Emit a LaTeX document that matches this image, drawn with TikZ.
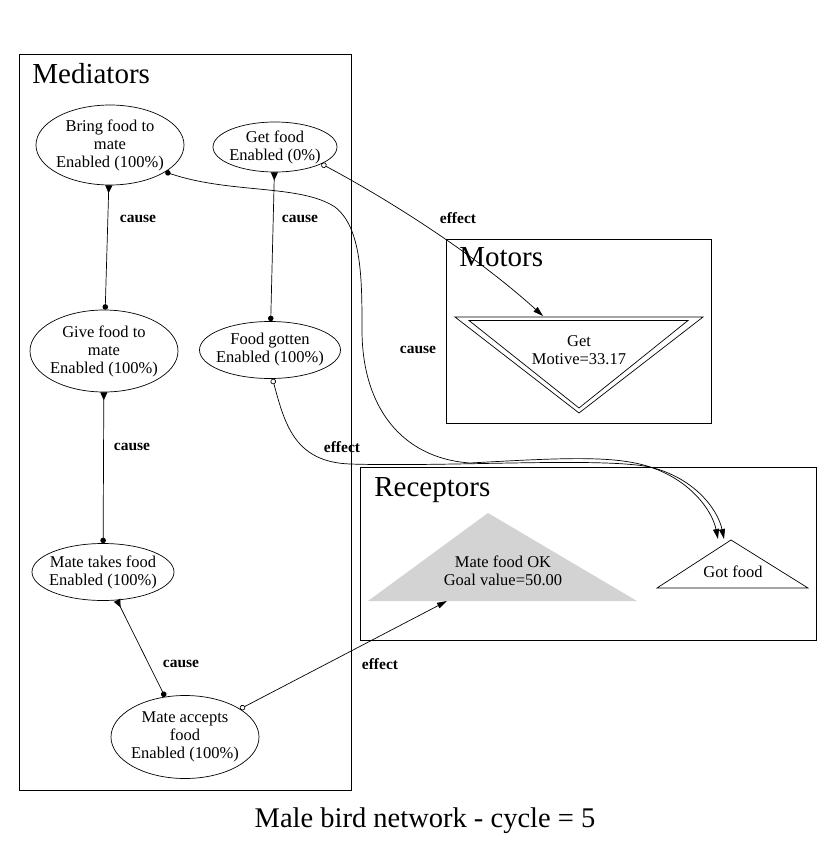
\documentclass[tikz,border=0pt]{standalone}
\usepackage{fontspec}
\setmainfont{Liberation Serif}
\usetikzlibrary{positioning, arrows.meta, shapes.geometric}
\definecolor{goalgray}{RGB}{211,211,211}

\begin{document}
\begin{tikzpicture}[
      x=1pt, y=-1pt, line width=0.7pt,
      mediator/.style={ellipse, draw, inner sep=-4pt, align=center, font=\fontsize{16.5}{18}\selectfont},
      sense/.style={align=center, inner sep=0pt, font=\fontsize{16.5}{18}\selectfont},
      group/.style={draw},
      title/.style={anchor=base west, inner sep=0pt, font=\fontsize{29}{32}\selectfont},
      lbl/.style={inner sep=0pt, font=\bfseries\fontsize{15.5}{17}\selectfont},
      cause/.style={arrows={Triangle[reversed,length=8pt,width=7pt]-Circle[length=5.5pt]}},
      causeback/.style={arrows={Circle[length=5.5pt]-Triangle[length=10pt,width=6pt]}},
      effect/.style={arrows={Circle[open,length=5.5pt]-Triangle[length=10pt,width=6pt]}}
    ]
      \useasboundingbox (0,0) rectangle (833,846);

      % Groups
      \draw[group] (19,54) rectangle (351,790);
      \draw[group] (446,239) rectangle (711,423);
      \draw[group] (360,467) rectangle (816,640);
      \node[title] (medtitle) at (32,83) {Mediators};
      \node[title] (mottitle) at (459,266) {Motors};
      \node[title] (rectitle) at (374,496) {Receptors};

      % Mediators
      \node[mediator, minimum width=148pt, minimum height=80pt] (bring) at (110,145) {Bring food to\\mate\\Enabled (100\%)};
      \node[mediator, minimum width=124pt, minimum height=50pt] (getfood) at (275,147) {Get food\\Enabled (0\%)};
      \node[mediator, minimum width=148pt, minimum height=82pt] (give) at (104,351) {Give food to\\mate\\Enabled (100\%)};
      \node[mediator, minimum width=141pt, minimum height=57pt] (gotten) at (270,350) {Food gotten\\Enabled (100\%)};
      \node[mediator, minimum width=142pt, minimum height=57pt] (takes) at (103,572) {Mate takes food\\Enabled (100\%)};
      \node[mediator, minimum width=148pt, minimum height=83pt] (accepts) at (185,737) {Mate accepts\\food\\Enabled (100\%)};

      % Motors
      \draw (455,317) -- (703,317) -- (579,413) -- cycle;
      \draw (469,320.5) -- (688,320.5) -- (579,408) -- cycle;
      \node[sense] (get) at (579,350) {Get\\Motive=33.17};
      \coordinate (getin) at (543,316);

      % Receptors
      \fill[goalgray] (368,601) -- (488,513) -- (637,601) -- cycle;
      \node[sense] (mateok) at (503,571) {Mate food OK\\Goal value=50.00};
      \coordinate (okin) at (447,601);
      \draw (657,588) -- (731,540) -- (808,588) -- cycle;
      \node[sense] (gotfood) at (733,572) {Got food};
      \coordinate (gotin1) at (718,539);
      \coordinate (gotin2) at (724,539);

      % Arrows
      \draw[cause] (bring) -- (give);
      \draw[cause] (getfood) -- (gotten);
      \draw[cause] (give) -- (takes);
      \draw[cause] (takes) -- (accepts);
      \draw[causeback] (bring.-26) .. controls (230,194) and (300,184) .. (335,207)
        .. controls (362,228) and (362,280) .. (362,330)
        .. controls (362,405) and (400,458) .. (470,463)
        .. controls (560,458) and (615,455) .. (650,467)
        .. controls (690,480) and (712,510) .. (gotin1);
      \draw[effect] (getfood.-20) .. controls (380,195) and (470,250) .. (getin);
      \draw[effect] (gotten.-85) .. controls (285,425) and (295,462) .. (350,464)
        .. controls (450,467) and (600,457) .. (650,467)
        .. controls (695,478) and (718,510) .. (gotin2);
      \draw[effect] (accepts.27) -- (okin);

      % Labels
      \node[lbl] (c1) at (138,219) {cause};
      \node[lbl] (c2) at (300,219) {cause};
      \node[lbl] (c3) at (132,447) {cause};
      \node[lbl] (c4) at (181,664) {cause};
      \node[lbl] (c5) at (418,350) {cause};
      \node[lbl] (e1) at (458,218) {effect};
      \node[lbl] (e2) at (342,447) {effect};
      \node[lbl] (e3) at (380,664) {effect};

      \node[anchor=base, inner sep=0pt, font=\fontsize{28.5}{30}\selectfont] (caption) at (425,827) {Male bird network - cycle = 5};
    \end{tikzpicture}
\end{document}
